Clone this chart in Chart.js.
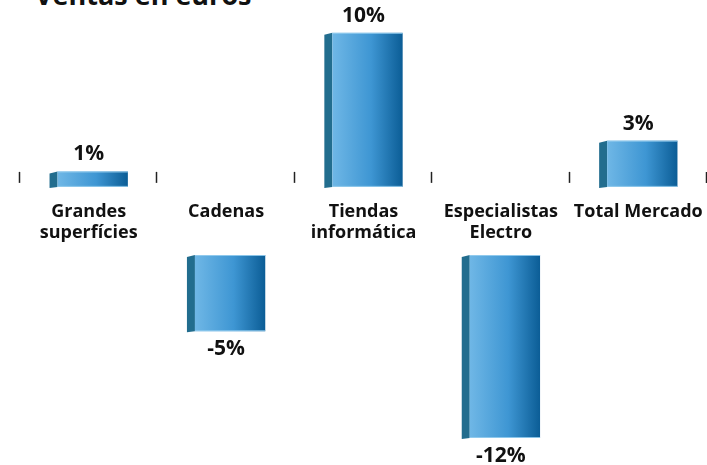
<!DOCTYPE html>
<html>
<head>
<meta charset="utf-8">
<script src="https://cdn.jsdelivr.net/npm/chart.js@4"></script>
<style>
  body { margin: 0; background: #fff; width: 707px; height: 465px; overflow: hidden; position: relative; }
  #title { position: absolute; left: 35px; top: -19px; font: 700 27px/27px "Open Sans", sans-serif; color: #111; white-space: nowrap; }
  #topBox { position: absolute; left: 0; top: 0; width: 707px; height: 257px; }
  #botBox { position: absolute; left: 0; top: 250px; width: 707px; height: 215px; }
</style>
</head>
<body>
<div id="title">Ventas en euros</div>
<div id="topBox"><canvas id="topChart"></canvas></div>
<div id="botBox"><canvas id="botChart"></canvas></div>
<script>
// Ventas en euros - variación por canal
const categories = [['Grandes', 'superfícies'], 'Cadenas', ['Tiendas', 'informática'], ['Especialistas', 'Electro'], 'Total Mercado'];
const growth = [1, -5, 10, -12, 3];

const positives = growth.map(v => v > 0 ? v : null);
const negatives = growth.map(v => v < 0 ? v : null);

const labelFont = '700 21px "Open Sans", sans-serif';

// 3D look: dark left side + horizontal gradient on the front face, value label
const bar3d = {
    id: 'bar3d',
    afterDatasetsDraw(chart) {
        const ctx = chart.ctx;
        const meta = chart.getDatasetMeta(0);
        meta.data.forEach((el, i) => {
            const v = chart.data.datasets[0].data[i];
            if (v === null) return;
            const p = el.getProps(['x', 'y', 'base', 'width'], true);
            const left = p.x - p.width / 2, right = p.x + p.width / 2;
            const top = Math.min(p.y, p.base), bottom = Math.max(p.y, p.base);
            const side = 8;
            ctx.save();
            // side face, slightly slanted
            ctx.fillStyle = '#226d8e';
            ctx.beginPath();
            ctx.moveTo(left, top + 2);
            ctx.lineTo(left + side, top);
            ctx.lineTo(left + side, bottom);
            ctx.lineTo(left, bottom + 1);
            ctx.closePath();
            ctx.fill();
            const g = ctx.createLinearGradient(left + side, 0, right, 0);
            g.addColorStop(0, '#6fb7e6');
            g.addColorStop(0.55, '#3e96d3');
            g.addColorStop(1, '#0b5d96');
            ctx.fillStyle = g;
            ctx.fillRect(left + side, top, right - left - side, bottom - top);
            ctx.fillStyle = 'rgba(150,205,238,0.9)';
            ctx.fillRect(left + side, top, right - left - side, 1);
            ctx.fillRect(left + side, bottom - 1, right - left - side, 1);
            // value label
            ctx.fillStyle = '#111';
            ctx.font = labelFont;
            ctx.textAlign = 'center';
            ctx.textBaseline = 'middle';
            ctx.fillText(v + '%', p.x, v > 0 ? top - 17 : bottom + 18);
            ctx.restore();
        });
    }
};

// small vertical marks at the category boundaries
const boundaryTicks = {
    id: 'boundaryTicks',
    afterDraw(chart) {
        const x = chart.scales.x, ctx = chart.ctx;
        const yBase = chart.scales.y.getPixelForValue(0);
        ctx.save();
        ctx.strokeStyle = '#222';
        ctx.lineWidth = 1.5;
        for (let i = 0; i <= categories.length; i++) {
            const px = Math.round(x.getPixelForValue(i - 0.5)) - 0.5;
            ctx.beginPath();
            ctx.moveTo(px, yBase - 15);
            ctx.lineTo(px, yBase - 4);
            ctx.stroke();
        }
        ctx.restore();
    }
};

Chart.defaults.animation = false;
Chart.defaults.maintainAspectRatio = false;
Chart.defaults.plugins.legend.display = false;
Chart.defaults.plugins.tooltip.enabled = false;

new Chart(document.getElementById('topChart'), {
    type: 'bar',
    data: {
        labels: categories,
        datasets: [{ data: positives, backgroundColor: 'rgba(0,0,0,0)', barPercentage: 0.57, categoryPercentage: 1 }]
    },
    options: {
        layout: { padding: { left: 20, right: 0, top: 2, bottom: 0 } },
        scales: {
            x: {
                offset: true,
                border: { display: false },
                grid: { display: false, drawTicks: false },
                ticks: { color: '#111', font: { family: 'Open Sans', size: 18, weight: '700', lineHeight: 1.17 }, padding: 14, maxRotation: 0, autoSkip: false },
                // let the last label run to the page edge like the original
                afterFit(scale) { scale.paddingLeft = 0; scale.paddingRight = 0; }
            },
            y: { display: false, min: 0, max: 12 }
        }
    },
    plugins: [bar3d, boundaryTicks]
});

new Chart(document.getElementById('botChart'), {
    type: 'bar',
    data: {
        labels: categories,
        datasets: [{ data: negatives, backgroundColor: 'rgba(0,0,0,0)', barPercentage: 0.57, categoryPercentage: 1 }]
    },
    options: {
        layout: { padding: { left: 20, right: 0, top: 5, bottom: 27 } },
        scales: {
            x: { display: false, offset: true },
            y: { display: false, min: -12, max: 0 }
        }
    },
    plugins: [bar3d]
});
</script>
</body>
</html>
